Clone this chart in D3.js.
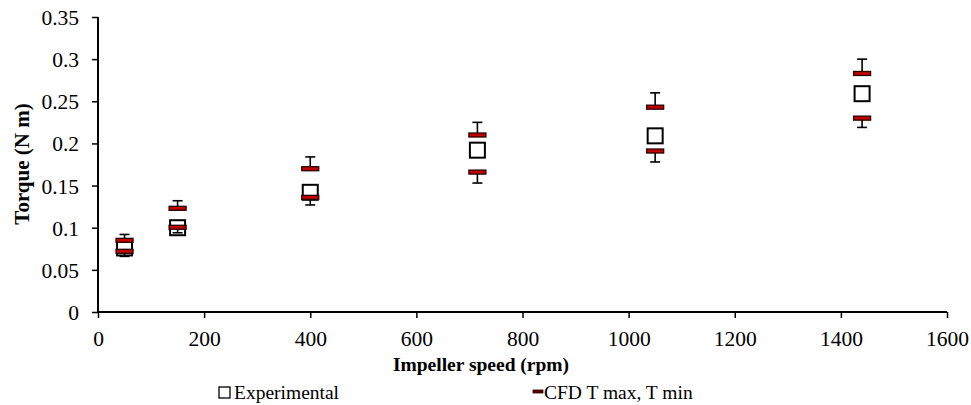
<!DOCTYPE html>
<html>
<head>
<meta charset="utf-8">
<script src="https://cdn.jsdelivr.net/npm/d3@7"></script>
<style>
  html, body { margin: 0; padding: 0; background: #fff; }
  svg { display: block; }
</style>
</head>
<body>
<script>
// ---- data ----
const rpm          = [50, 150, 400, 715, 1050, 1440];
const experimental = [0.076, 0.100, 0.142, 0.192, 0.209, 0.259];
const cfdMax       = [0.085, 0.123, 0.170, 0.210, 0.243, 0.283];
const cfdMin       = [0.072, 0.1005, 0.136, 0.166, 0.191, 0.230];
const errTop       = [0.092, 0.132, 0.184, 0.225, 0.260, 0.300];
const errBottom    = [0.066, 0.094, 0.127, 0.153, 0.178, 0.219];
const xTicks = [0, 200, 400, 600, 800, 1000, 1200, 1400, 1600];
const yTicks = [0, 0.05, 0.1, 0.15, 0.2, 0.25, 0.3, 0.35];
const xTickLabels = ["0", "200", "400", "600", "800", "1000", "1200", "1400", "1600"];
const yTickLabels = ["0", "0.05", "0.1", "0.15", "0.2", "0.25", "0.3", "0.35"];
const legendLabels = ["Experimental", "CFD T max, T min"];

const FONT = '"Liberation Serif", "Times New Roman", serif';
const W = 971, H = 405;
const svg = d3.select("body").append("svg").attr("width", W).attr("height", H);

const x = d3.scaleLinear().domain([0, 1600]).range([98, 947]);
const y = d3.scaleLinear().domain([0, 0.35]).range([312, 17]);

// axes
const xAxis = d3.axisBottom(x).tickValues(xTicks).tickFormat((d, i) => xTickLabels[i]).tickSize(6).tickSizeOuter(0);
const yAxis = d3.axisLeft(y).tickValues(yTicks).tickFormat((d, i) => yTickLabels[i]).tickSize(6).tickSizeOuter(0);

const gx = svg.append("g").attr("transform", `translate(0,${y(0)})`).call(xAxis);
const gy = svg.append("g").attr("transform", `translate(${x(0)},0)`).call(yAxis);
[gx, gy].forEach(g => {
  g.attr("font-family", null).attr("font-size", null);
  g.select(".domain").attr("stroke", "#000").attr("stroke-width", 2);
  g.selectAll(".tick line").attr("stroke", "#000").attr("stroke-width", 1.5);
  g.selectAll(".tick text").style("font-family", FONT).style("font-size", "21.5px").attr("fill", "#000");
});
gx.selectAll(".tick text").attr("dy", null).attr("y", 34);
gy.selectAll(".tick text").attr("dy", "0.35em").attr("x", -19);
gx.select(".domain").attr("d", `M${x(0)},0H${x(1600)}`);
gy.select(".domain").attr("d", `M0,${y(0)}V${y(0.35)}`);

// axis titles
svg.append("text").attr("x", 481).attr("y", 371).attr("text-anchor", "middle")
  .style("font-family", FONT).style("font-size", "19.5px").style("font-weight", "bold").text("Impeller speed (rpm)");
svg.append("text").attr("transform", "translate(29,164) rotate(-90)").attr("text-anchor", "middle")
  .style("font-family", FONT).style("font-size", "21px").style("font-weight", "bold").text("Torque (N m)");

const idx = d3.range(rpm.length);
const plot = svg.append("g");

// experimental squares (no fill)
const sq = 15;
plot.selectAll("rect.exp").data(idx).join("rect").attr("class", "exp")
  .attr("x", i => x(rpm[i]) - sq / 2).attr("y", i => y(experimental[i]) - sq / 2)
  .attr("width", sq).attr("height", sq)
  .attr("fill", "none").attr("stroke", "#000").attr("stroke-width", 2);

// error bars on CFD
const capW = 10;
const eb = plot.append("g").attr("stroke", "#000").attr("stroke-width", 1.6);
idx.forEach(i => {
  const cx = x(rpm[i]);
  eb.append("line").attr("x1", cx).attr("x2", cx).attr("y1", y(cfdMax[i])).attr("y2", y(errTop[i]));
  eb.append("line").attr("x1", cx - capW / 2).attr("x2", cx + capW / 2).attr("y1", y(errTop[i])).attr("y2", y(errTop[i]));
  eb.append("line").attr("x1", cx).attr("x2", cx).attr("y1", y(cfdMin[i])).attr("y2", y(errBottom[i]));
  eb.append("line").attr("x1", cx - capW / 2).attr("x2", cx + capW / 2).attr("y1", y(errBottom[i])).attr("y2", y(errBottom[i]));
});

// CFD dashes
const dW = 17, dH = 4;
const cfdVals = idx.map(i => [i, cfdMax[i]]).concat(idx.map(i => [i, cfdMin[i]]));
plot.selectAll("rect.cfd").data(cfdVals).join("rect").attr("class", "cfd")
  .attr("x", d => x(rpm[d[0]]) - dW / 2).attr("y", d => y(d[1]) - dH / 2)
  .attr("width", dW).attr("height", dH)
  .attr("fill", "#c00000").attr("stroke", "#2a0000").attr("stroke-width", 1.3);

// legend
const lg = svg.append("g");
lg.append("rect").attr("x", 219).attr("y", 387).attr("width", 11).attr("height", 11)
  .attr("fill", "none").attr("stroke", "#000").attr("stroke-width", 1.3);
lg.append("text").attr("x", 234).attr("y", 399).style("font-family", FONT).style("font-size", "19.5px").text(legendLabels[0]);
lg.append("rect").attr("x", 533).attr("y", 390).attr("width", 10).attr("height", 3)
  .attr("fill", "#5a0000").attr("stroke", "#2a0000").attr("stroke-width", 0.8);
lg.append("text").attr("x", 544).attr("y", 399).style("font-family", FONT).style("font-size", "19.5px").text(legendLabels[1]);
</script>
</body>
</html>
